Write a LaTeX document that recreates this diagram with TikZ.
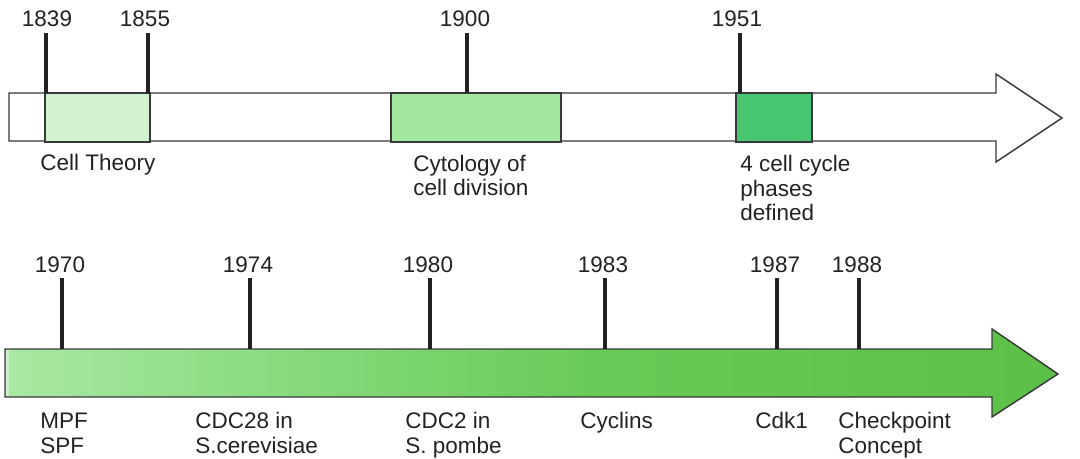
\documentclass[tikz,border=0pt]{standalone}
\usepackage{fontspec}
\setmainfont{Liberation Sans}
\usepackage{tikz}
\usetikzlibrary{calc}

\definecolor{ink}{HTML}{222222}
\definecolor{theorygreen}{HTML}{CFF4CF}
\definecolor{cytogreen}{HTML}{A3E8A0}
\definecolor{phasegreen}{HTML}{48C672}
\definecolor{startgreen}{HTML}{A9E8A3}
\definecolor{earlygreen}{HTML}{86DA7C}
\definecolor{midgreen}{HTML}{68CB57}
\definecolor{lategreen}{HTML}{5FC24B}
\definecolor{endgreen}{HTML}{5CC048}
\definecolor{edgegreen}{HTML}{CBF1C4}

\pgfdeclarehorizontalshading{timeshade}{100bp}{color(0bp)=(startgreen); color(25bp)=(startgreen);
	color(39bp)=(earlygreen); color(53bp)=(midgreen); color(70bp)=(lategreen);
	color(75bp)=(endgreen); color(100bp)=(endgreen)}

\tikzset{
	year/.style={text=ink, inner xsep=0pt, inner ysep=4.2pt, anchor=base},
	event/.style={text=ink, inner sep=0pt, anchor=base west, align=left},
	tick/.style={line width=2.3pt, ink},
	outline/.style={line width=1pt, draw=ink!90}
}

\begin{document}
\begin{tikzpicture}[x=0.025cm, y=-0.025cm, font=\fontsize{16}{17.7}\selectfont]
	\useasboundingbox (0,0) rectangle (1080,459);

	% upper time line
	\draw [outline, fill=white] (9,93) -- (996,93) -- (996,74) -- (1062,118)
		-- (996,162) -- (996,141) -- (9,141) -- cycle;
	\draw [outline, fill=theorygreen] (45,93) rectangle (150,142);
	\draw [outline, fill=cytogreen] (391,93) rectangle (561,142);
	\draw [outline, fill=phasegreen] (736,93) rectangle (812,142);

	\coordinate (b1839) at (46,93);
	\coordinate (b1855) at (148,93);
	\coordinate (b1900) at (467,93);
	\coordinate (b1951) at (740,93);

	\node (y1839) [year] at (47,27) {1839};
	\node (y1855) [year] at (145,27) {1855};
	\node (y1900) [year] at (465,27) {1900};
	\node (y1951) [year] at (737,27) {1951};

	\draw [tick] (b1839 |- y1839.south) to (b1839);
	\draw [tick] (b1855 |- y1855.south) to (b1855);
	\draw [tick] (b1900 |- y1900.south) to (b1900);
	\draw [tick] (b1951 |- y1951.south) to (b1951);

	% base of a multi-line node is its last line
	\node (theory) [event] at (40,171) {Cell Theory};
	\node (cyto) [event] at (413,196) {Cytology of\\cell division};
	\node (phases) [event] at (740,221) {4 cell cycle\\phases\\defined};

	% lower time line
	\shade [shading=timeshade] (5,349) -- (992,349) -- (992,329)
		-- (1058,374) -- (992,417) -- (992,397) -- (5,397) -- cycle;
	\fill [edgegreen] (5.5,349.5) rectangle (9,396.5);
	\draw [outline] (5,349) -- (992,349) -- (992,329) -- (1058,374)
		-- (992,417) -- (992,397) -- (5,397) -- cycle;

	\coordinate (b1970) at (62,349);
	\coordinate (b1974) at (250,349);
	\coordinate (b1980) at (430,349);
	\coordinate (b1983) at (605,349);
	\coordinate (b1987) at (777,349);
	\coordinate (b1988) at (859,349);

	\node (y1970) [year] at (60,272) {1970};
	\node (y1974) [year] at (248,272) {1974};
	\node (y1980) [year] at (428,272) {1980};
	\node (y1983) [year] at (603,272) {1983};
	\node (y1987) [year] at (775,272) {1987};
	\node (y1988) [year] at (857,272) {1988};

	\draw [tick] (b1970 |- y1970.south) to (b1970);
	\draw [tick] (b1974 |- y1974.south) to (b1974);
	\draw [tick] (b1980 |- y1980.south) to (b1980);
	\draw [tick] (b1983 |- y1983.south) to (b1983);
	\draw [tick] (b1987 |- y1987.south) to (b1987);
	\draw [tick] (b1988 |- y1988.south) to (b1988);

	\node (mpf) [event] at (40,453) {MPF\\SPF};
	\node (cdc28) [event] at (195,453) {CDC28 in\\S.cerevisiae};
	\node (cdc2) [event] at (405,453) {CDC2 in\\S. pombe};
	\node (cyclins) [event] at (580,428) {Cyclins};
	\node (cdk1) [event] at (755,428) {Cdk1};
	\node (check) [event] at (838,453) {Checkpoint\\Concept};

\end{tikzpicture}
\end{document}
